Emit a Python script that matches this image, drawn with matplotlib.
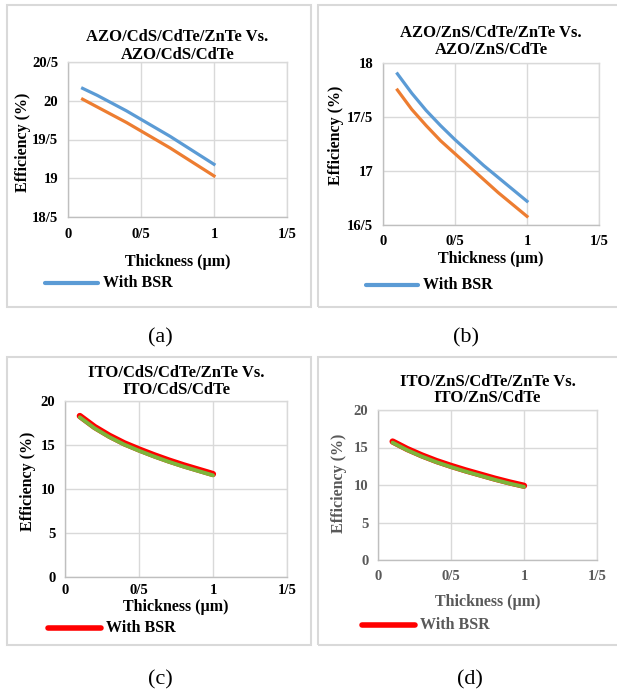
import numpy as np
import matplotlib.pyplot as plt
from matplotlib.patches import Rectangle
from matplotlib.lines import Line2D

plt.rcParams['font.family'] = ['Liberation Serif', 'DejaVu Serif']

W, H = 617, 695

thickness = [0.1, 0.2, 0.3, 0.4, 0.5, 0.6, 0.7, 0.8, 0.9, 1.0]

# (a) AZO/CdS
a_bsr = [20.16, 20.07, 19.97, 19.87, 19.76, 19.65, 19.54, 19.42, 19.30, 19.18]
a_ref = [20.02, 19.92, 19.82, 19.72, 19.61, 19.50, 19.39, 19.27, 19.15, 19.03]
# (b) AZO/ZnS
b_bsr = [17.90, 17.72, 17.56, 17.42, 17.29, 17.17, 17.05, 16.94, 16.83, 16.72]
b_ref = [17.75, 17.57, 17.42, 17.28, 17.16, 17.04, 16.92, 16.80, 16.69, 16.58]
# (c) ITO/CdS
c_bsr = [18.3, 17.05, 16.05, 15.2, 14.5, 13.85, 13.25, 12.7, 12.2, 11.7]
c_ref = [18.15, 16.9, 15.9, 15.05, 14.35, 13.7, 13.1, 12.55, 12.05, 11.55]
# (d) ITO/ZnS
d_bsr = [15.8, 14.8, 13.95, 13.2, 12.55, 11.95, 11.4, 10.85, 10.35, 9.9]
d_ref = [15.65, 14.65, 13.8, 13.05, 12.4, 11.8, 11.25, 10.7, 10.2, 9.75]

x_ticks = [0, 0.5, 1, 1.5]
x_ticklabels = ['0', '0/5', '1', '1/5']

panels = [
    dict(title=['AZO/CdS/CdTe/ZnTe Vs.', 'AZO/CdS/CdTe'], bsr=a_bsr, ref=a_ref,
         yticks=[18.5, 19, 19.5, 20, 20.5], ylabels=['18/5', '19', '19/5', '20', '20/5'],
         c_bsr='#5b9bd5', c_ref='#ed7d31', outline=False, txt='black',
         box=(7, 5, 311, 307), ax=(68, 62, 287, 217), title_y=(37, 55),
         ylab=(23, 142), tick_pad=8, xlab_y=262, leg=(45, 98, 283), cap=(160, 338, '(a)')),
    dict(title=['AZO/ZnS/CdTe/ZnTe Vs.', 'AZO/ZnS/CdTe'], bsr=b_bsr, ref=b_ref,
         yticks=[16.5, 17, 17.5, 18], ylabels=['16/5', '17', '17/5', '18'],
         c_bsr='#5b9bd5', c_ref='#ed7d31', outline=False, txt='black',
         box=(318, 5, 625, 307), ax=(383, 63, 599, 225), title_y=(33, 50),
         ylab=(336, 135), tick_pad=7, xlab_y=259, leg=(366, 418, 285), cap=(466, 338, '(b)')),
    dict(title=['ITO/CdS/CdTe/ZnTe Vs.', 'ITO/CdS/CdTe'], bsr=c_bsr, ref=c_ref,
         yticks=[0, 5, 10, 15, 20], ylabels=['0', '5', '10', '15', '20'],
         c_bsr='#ff0000', c_ref='#7cb53a', outline=True, txt='black',
         box=(7, 357, 311, 645), ax=(65, 401, 287, 577), title_y=(373, 390),
         ylab=(28, 481), tick_pad=5, xlab_y=607, leg=(48, 101, 628), cap=(160, 680, '(c)')),
    dict(title=['ITO/ZnS/CdTe/ZnTe Vs.', 'ITO/ZnS/CdTe'], bsr=d_bsr, ref=d_ref,
         yticks=[0, 5, 10, 15, 20], ylabels=['0', '5', '10', '15', '20'],
         c_bsr='#ff0000', c_ref='#7cb53a', outline=True, txt='#595959',
         box=(318, 357, 625, 645), ax=(378, 410, 597, 560), title_y=(382, 398),
         ylab=(339, 483), tick_pad=7, xlab_y=602, leg=(362, 415, 625), cap=(470, 680, '(d)')),
]

fig = plt.figure(figsize=(W / 100, H / 100), dpi=100)


def fx(px):
    return px / W


def fy(py):
    return 1 - py / H


for p in panels:
    x0, y0, x1, y1 = p['box']
    fig.add_artist(Rectangle((fx(x0), fy(y1)), fx(x1 - x0), (y1 - y0) / H,
                             transform=fig.transFigure, fill=False,
                             edgecolor='#d9d9d9', linewidth=1.5))

    l, t, r, b = p['ax']
    ax = fig.add_axes([fx(l), fy(b), fx(r - l), (b - t) / H])
    if p['outline']:
        ax.plot(thickness, p['bsr'], color=p['c_bsr'], linewidth=4.5, solid_capstyle='round')
        ax.plot(thickness, p['ref'], color=p['c_ref'], linewidth=2.8, solid_capstyle='round')
    else:
        ax.plot(thickness, p['bsr'], color=p['c_bsr'], linewidth=2.3)
        ax.plot(thickness, p['ref'], color=p['c_ref'], linewidth=2.3)

    ax.set_xlim(0, 1.5)
    ax.set_ylim(p['yticks'][0], p['yticks'][-1])
    ax.set_xticks(x_ticks)
    ax.set_xticklabels(x_ticklabels)
    ax.set_yticks(p['yticks'])
    ax.set_yticklabels(p['ylabels'])
    ax.tick_params(length=0, labelsize=10.5, colors=p['txt'])
    ax.tick_params(axis='y', pad=7)
    ax.tick_params(axis='x', pad=p['tick_pad'])
    for lab in ax.get_xticklabels() + ax.get_yticklabels():
        lab.set_fontweight('bold')
    ax.grid(True, color='#d9d9d9', linewidth=1)
    for s in ax.spines.values():
        s.set_color('#d9d9d9')
        s.set_linewidth(1)
    ax.spines['left'].set_color('#bfbfbf')
    ax.spines['bottom'].set_color('#bfbfbf')

    cx = (l + r) / 2
    for line, ty in zip(p['title'], p['title_y']):
        fig.text(fx(cx), fy(ty), line, ha='center', va='center',
                 fontsize=12, fontweight='bold')
    yx, yy = p['ylab']
    fig.text(fx(yx), fy(yy), 'Efficiency (%)', rotation=90,
             ha='center', va='center', fontsize=11.5, fontweight='bold', color=p['txt'])
    fig.text(fx(cx), fy(p['xlab_y']), 'Thickness (µm)', ha='center', va='center',
             fontsize=11.5, fontweight='bold', color=p['txt'])

    lx0, lx1, ly = p['leg']
    fig.add_artist(Line2D([fx(lx0), fx(lx1)], [fy(ly), fy(ly)], transform=fig.transFigure,
                          color=p['c_bsr'], linewidth=4 if p['outline'] else 3,
                          solid_capstyle='round'))
    fig.text(fx(lx1 + 5), fy(ly), 'With BSR', ha='left', va='center',
             fontsize=11.5, fontweight='bold', color=p['txt'])

    cxp, cyp, cap = p['cap']
    fig.text(fx(cxp), fy(cyp), cap, ha='center', va='center', fontsize=16)

fig.savefig('out.png', dpi=100)
